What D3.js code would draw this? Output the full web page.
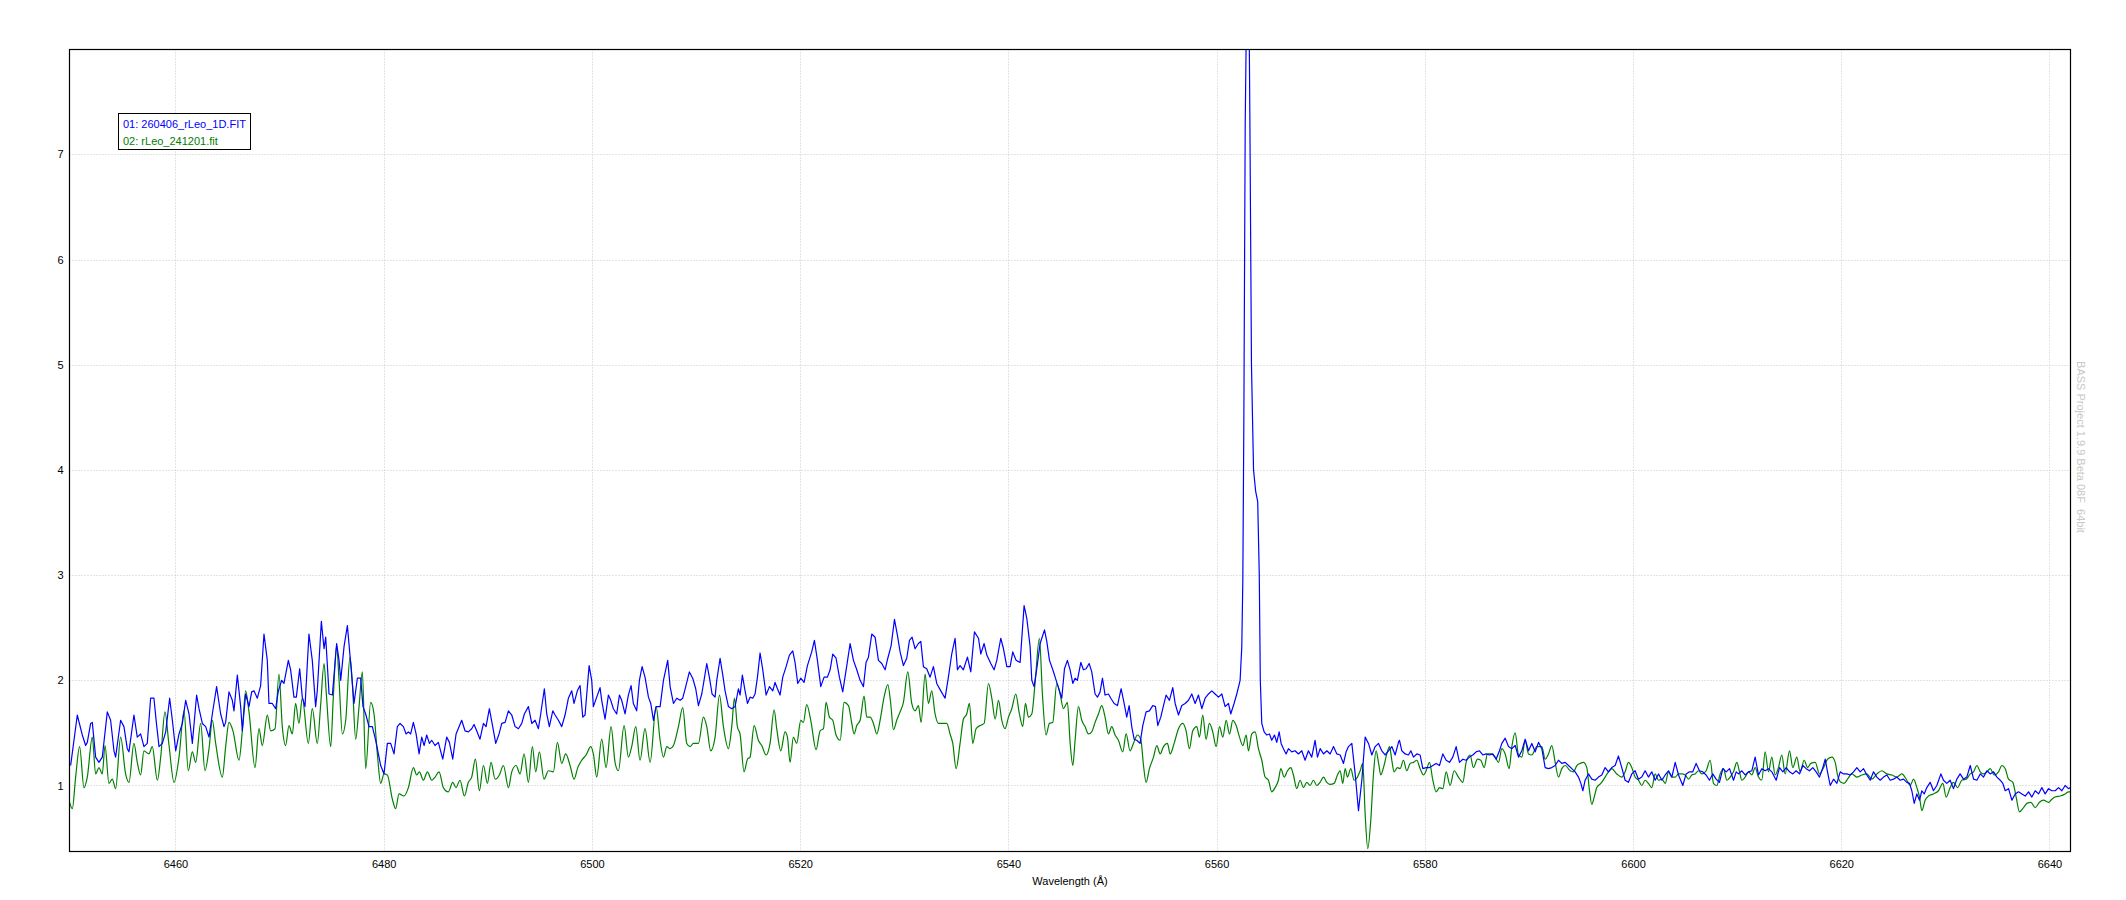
<!DOCTYPE html>
<html><head><meta charset="utf-8">
<script src="https://cdn.jsdelivr.net/npm/d3@7"></script>
<style>html,body{margin:0;padding:0;background:#fff}svg{display:block;font-family:"Liberation Sans",Arial,sans-serif}</style>
</head><body><svg id="chart" width="2126" height="900"></svg>
<script>
const xTicks=[6460,6480,6500,6520,6540,6560,6580,6600,6620,6640];
const yTicks=[1,2,3,4,5,6,7];
const seriesNames=["01: 260406_rLeo_1D.FIT","02: rLeo_241201.fit"];
const seriesColors=["#0000ff","#008000"];
const xLabel="Wavelength (Å)";
const watermark="BASS Project 1.9.9 Beta 08F  64bit";

const blueWl=[6449.93,6450.57,6451.05,6451.37,6451.53,6451.85,6452.01,6452.33,6452.65,6452.97,6453.45,6453.77,6454.09,6454.25,6454.73,6455.05,6455.37,6455.53,6456.01,6456.33,6456.65,6456.97,6457.29,6457.61,6457.93,6458.16,6458.42,6458.74,6459.06,6459.44,6459.70,6460.02,6460.34,6460.66,6460.98,6461.30,6461.62,6462.03,6462.26,6462.58,6462.90,6463.22,6463.54,6463.95,6464.34,6464.66,6464.82,6465.14,6465.46,6465.62,6465.94,6466.26,6466.42,6466.74,6467.06,6467.32,6467.54,6467.86,6468.18,6468.50,6468.82,6468.98,6469.30,6469.62,6469.88,6470.20,6470.42,6470.84,6471.06,6471.38,6471.61,6471.93,6472.18,6472.44,6472.82,6473.14,6473.46,6473.62,6474.01,6474.27,6474.43,6474.75,6475.07,6475.48,6475.71,6475.87,6476.19,6476.51,6476.83,6477.15,6477.47,6477.79,6478.01,6478.27,6478.59,6478.91,6479.23,6479.71,6480.03,6480.35,6480.67,6480.99,6481.31,
6481.57,6481.89,6482.15,6482.37,6482.59,6482.85,6483.11,6483.40,6483.65,6483.88,6484.13,6484.39,6484.61,6484.93,6485.25,6485.67,6486.05,6486.31,6486.63,6486.95,6487.49,6487.81,6488.13,6488.45,6488.68,6488.93,6489.25,6489.58,6489.83,6490.15,6490.47,6490.76,6491.08,6491.34,6491.66,6491.98,6492.30,6492.62,6492.94,6493.26,6493.51,6493.90,6494.22,6494.54,6494.86,6495.08,6495.43,6495.66,6495.91,6496.24,6496.46,6496.78,6497.10,6497.42,6497.74,6498.06,6498.28,6498.60,6498.86,6499.12,6499.34,6499.73,6499.98,6500.14,6500.46,6500.78,6500.94,6501.26,6501.58,6501.81,6502.06,6502.38,6502.64,6502.86,6503.18,6503.50,6503.76,6503.98,6504.30,6504.56,6504.82,6505.10,6505.43,6505.65,6505.91,6506.16,6506.55,6506.87,6507.28,6507.51,6507.83,6508.15,6508.47,6508.72,6509.01,6509.36,6509.68,6509.97,6510.23,6510.55,6510.77,6511.03,6511.28,6511.54,6511.83,6511.99,6512.31,6512.57,6512.79,6513.11,6513.43,6513.75,6514.07,
6514.23,6514.45,6514.71,6514.94,6515.19,6515.45,6515.67,6515.90,6516.15,6516.41,6516.73,6517.05,6517.37,6517.59,6517.82,6518.07,6518.33,6518.65,6518.97,6519.29,6519.51,6519.77,6520.06,6520.38,6520.70,6521.11,6521.37,6521.66,6521.98,6522.30,6522.62,6522.88,6523.13,6523.45,6523.77,6524.09,6524.48,6524.80,6525.12,6525.44,6525.76,6526.08,6526.33,6526.56,6526.88,6527.20,6527.52,6527.84,6528.16,6528.42,6528.74,6529.06,6529.34,6529.60,6529.92,6530.24,6530.50,6530.75,6531.04,6531.36,6531.59,6531.84,6532.16,6532.48,6532.80,6533.12,6533.51,6533.92,6534.24,6534.56,6534.88,6535.11,6535.36,6535.68,6536.07,6536.39,6536.74,6537.13,6537.35,6537.67,6537.93,6538.31,6538.63,6538.89,6539.27,6539.53,6539.85,6540.17,6540.42,6540.74,6541.13,6541.51,6541.77,6542.09,6542.25,6542.47,6542.73,6543.05,6543.47,6543.69,6543.95,6544.27,6544.59,6544.91,6545.13,6545.39,6545.67,6545.93,
6546.19,6546.41,6546.63,6546.96,6547.21,6547.47,6547.76,6548.01,6548.33,6548.56,6548.81,6549.04,6549.29,6549.61,6549.84,6550.16,6550.48,6550.83,6551.12,6551.37,6551.60,6551.85,6552.08,6552.33,6552.65,6552.91,6553.23,6553.55,6553.87,6554.13,6554.35,6554.64,6554.90,6555.15,6555.47,6555.79,6556.02,6556.34,6556.66,6556.98,6557.30,6557.62,6557.94,6558.26,6558.58,6558.90,6559.22,6559.54,6559.86,6560.18,6560.50,6560.82,6561.14,6561.36,6561.68,6561.94,6562.26,6562.42,6562.52,6562.62,6562.75,6562.90,6563.10,6563.20,6563.35,6563.55,6563.75,6563.95,6564.10,6564.20,6564.34,6564.57,6564.82,6565.08,6565.30,6565.56,6565.78,6566.01,6566.20,6566.42,6566.68,6566.90,6567.22,6567.54,6567.86,6568.18,6568.50,6568.82,6569.14,6569.46,6569.69,6569.95,6570.27,6570.59,6570.91,6571.23,6571.55,6571.87,6572.19,6572.44,6572.67,6572.99,6573.31,6573.63,6573.95,6574.27,6574.59,6574.91,6575.23,6575.55,6575.87,6576.19,6576.51,6576.83,6577.15,6577.47,
6577.57,6577.79,6578.11,6578.43,6578.66,6578.91,6579.23,6579.55,6579.81,6580.13,6580.45,6580.77,6581.09,6581.41,6581.73,6582.05,6582.37,6582.69,6583.01,6583.33,6583.65,6583.97,6584.29,6584.61,6584.93,6585.25,6585.57,6585.89,6586.21,6586.53,6586.85,6587.17,6587.40,6587.72,6588.04,6588.36,6588.68,6589.00,6589.32,6589.64,6589.96,6590.28,6590.60,6590.92,6591.24,6591.56,6591.88,6592.20,6592.52,6592.84,6593.16,6593.48,6593.80,6594.12,6594.44,6594.76,6594.99,6595.18,6595.40,6595.72,6596.04,6596.36,6596.68,6597.00,6597.32,6597.64,6597.96,6598.28,6598.60,6598.92,6599.24,6599.56,6599.88,6600.20,6600.52,6600.84,6601.16,6601.48,6601.80,6602.13,6602.45,6602.77,6603.09,6603.41,6603.73,6604.05,6604.37,6604.78,6605.10,6605.42,6605.74,6606.06,6606.38,6606.70,6607.02,6607.34,6607.66,6607.98,6608.30,6608.63,6608.95,6609.27,
6609.65,6609.91,6610.13,6610.45,6610.77,6611.09,6611.41,6611.73,6612.05,6612.37,6612.69,6613.01,6613.33,6613.75,6614.07,6614.39,6614.71,6615.03,6615.35,6615.67,6615.99,6616.31,6616.63,6616.95,6617.27,6617.59,6617.91,6618.23,6618.46,6618.68,6618.94,6619.26,6619.58,6619.90,6620.22,6620.54,6620.86,6621.18,6621.50,6621.82,6622.14,6622.46,6622.78,6623.10,6623.42,6623.74,6624.06,6624.38,6624.70,6625.02,6625.34,6625.66,6625.98,6626.30,6626.56,6626.78,6627.01,6627.26,6627.52,6627.74,6627.97,6628.22,6628.54,6628.86,6629.18,6629.57,6629.82,6630.14,6630.46,6630.78,6631.10,6631.42,6631.74,6632.06,6632.39,6632.71,6633.03,6633.35,6633.67,6633.99,6634.31,6634.63,6634.95,6635.27,6635.52,6635.75,6636.07,6636.39,6636.71,6637.03,6637.35,6637.67,6637.99,6638.31,6638.63,6638.95,6639.27,6639.59,6639.91,6640.23,6640.55,6640.87,6641.19,6641.51,6641.83,6642.00];
const blueFlux=[1.19,1.67,1.48,1.38,1.41,1.59,1.60,1.27,1.22,1.27,1.70,1.62,1.33,1.27,1.62,1.56,1.35,1.32,1.67,1.46,1.49,1.37,1.40,1.83,1.83,1.60,1.37,1.40,1.51,1.83,1.62,1.33,1.49,1.59,1.81,1.68,1.40,1.86,1.73,1.59,1.56,1.46,1.68,1.94,1.68,1.56,1.60,1.89,1.81,1.71,2.05,1.75,1.52,1.87,1.75,1.89,1.90,1.83,1.95,2.44,2.19,1.78,1.78,1.73,1.90,2.00,1.97,2.19,2.10,1.84,1.84,2.11,1.84,1.75,2.44,2.19,1.75,1.90,2.56,2.30,2.41,1.87,1.86,2.35,2.19,2.00,2.32,2.52,2.16,1.78,2.02,2.02,1.75,1.68,1.56,1.56,1.43,1.19,1.11,1.40,1.40,1.30,1.56,
1.59,1.56,1.49,1.51,1.49,1.60,1.49,1.30,1.46,1.38,1.48,1.40,1.43,1.38,1.41,1.25,1.46,1.41,1.25,1.49,1.62,1.52,1.51,1.54,1.58,1.52,1.44,1.59,1.56,1.73,1.56,1.40,1.49,1.59,1.60,1.71,1.67,1.56,1.54,1.59,1.68,1.75,1.59,1.62,1.54,1.68,1.92,1.68,1.56,1.71,1.67,1.62,1.56,1.67,1.83,1.90,1.78,1.90,1.95,1.65,1.67,2.14,2.00,1.75,1.84,1.93,1.81,1.63,1.86,1.81,1.73,1.68,1.86,1.81,1.68,1.86,1.95,1.78,1.71,2.00,2.13,2.03,1.84,1.78,1.62,1.75,1.75,2.00,2.19,1.94,1.78,1.83,1.81,1.83,1.94,2.08,2.02,1.92,1.76,1.87,2.00,2.16,2.03,1.87,1.84,2.00,2.21,2.05,1.90,1.75,1.73,1.75,1.92,
1.86,2.05,1.90,1.78,1.84,1.83,1.87,2.03,2.26,2.10,1.86,1.94,1.90,1.98,1.92,1.86,2.03,2.13,2.24,2.28,2.17,1.97,2.02,1.98,2.14,2.27,2.38,2.19,1.94,2.03,2.03,2.10,2.25,2.21,2.03,1.89,2.14,2.35,2.19,2.10,2.00,1.94,2.17,2.22,2.44,2.41,2.19,2.16,2.10,2.21,2.33,2.58,2.43,2.27,2.14,2.21,2.38,2.41,2.30,2.35,2.37,2.13,2.11,2.03,2.13,1.97,1.90,1.83,2.03,2.25,2.40,2.10,2.14,2.10,2.22,2.08,2.46,2.40,2.25,2.35,2.24,2.16,2.10,2.19,2.40,2.30,2.13,2.13,2.27,2.19,2.17,2.71,2.59,2.32,2.00,1.94,2.11,2.35,2.48,2.37,2.19,2.10,2.00,1.90,1.83,2.11,2.19,2.10,
1.97,2.02,2.00,2.17,2.10,2.11,2.16,2.08,1.87,1.84,1.89,2.02,1.86,1.87,1.83,1.78,1.76,1.92,1.78,1.65,1.76,1.56,1.44,1.43,1.40,1.57,1.70,1.71,1.76,1.75,1.57,1.65,1.76,1.86,1.81,1.93,1.78,1.67,1.76,1.78,1.81,1.87,1.78,1.86,1.73,1.83,1.87,1.90,1.87,1.84,1.87,1.75,1.78,1.68,1.78,1.87,2.00,2.32,2.95,4.50,7.30,8.60,8.60,7.30,5.00,4.00,3.80,3.70,3.00,2.00,1.59,1.51,1.48,1.49,1.43,1.48,1.41,1.51,1.40,1.35,1.30,1.35,1.32,1.33,1.30,1.33,1.24,1.33,1.27,1.43,1.27,1.35,1.30,1.33,1.30,1.37,1.30,1.29,1.21,1.32,1.37,1.40,1.11,0.76,1.05,1.46,1.40,1.29,1.37,1.40,1.33,1.29,1.33,1.37,1.29,1.41,
1.43,1.33,1.30,1.29,1.33,1.27,1.30,1.29,1.16,1.17,1.17,1.19,1.21,1.19,1.30,1.24,1.22,1.27,1.37,1.22,1.25,1.24,1.27,1.29,1.32,1.33,1.29,1.30,1.29,1.30,1.25,1.33,1.40,1.45,1.37,1.35,1.38,1.27,1.33,1.44,1.33,1.40,1.32,1.41,1.35,1.17,1.16,1.17,1.19,1.24,1.21,1.22,1.19,1.16,1.13,1.08,1.02,0.95,1.05,1.11,1.06,1.05,1.08,1.10,1.17,1.13,1.17,1.19,1.28,1.17,1.05,1.03,1.11,1.14,1.06,1.08,1.14,1.08,1.13,1.05,1.11,1.05,1.10,1.14,1.08,1.22,1.10,1.00,1.11,1.13,1.13,1.21,1.14,1.13,1.10,1.05,1.11,1.06,1.03,1.16,1.13,1.16,
1.05,1.13,1.11,1.14,1.10,1.13,1.14,1.27,1.10,1.16,1.14,1.16,1.13,1.05,1.17,1.13,1.17,1.13,1.11,1.14,1.11,1.19,1.16,1.14,1.17,1.13,1.08,1.17,1.25,1.13,1.00,1.06,1.02,1.13,1.11,1.11,1.10,1.13,1.17,1.13,1.16,1.10,1.05,1.13,1.08,1.05,1.08,1.10,1.05,1.06,1.08,1.05,1.06,1.03,1.02,0.95,0.83,0.92,0.86,0.95,0.92,0.98,1.03,0.95,1.00,1.11,1.05,1.02,1.05,0.97,1.06,1.11,1.06,1.08,1.19,1.06,1.05,1.11,1.08,1.14,1.11,1.13,1.08,1.05,1.02,0.95,0.97,0.86,0.92,0.94,0.92,0.90,0.94,0.89,0.95,0.92,0.98,0.92,0.97,0.95,0.95,0.98,0.95,1.00,0.97,0.98];

const greenWl=[6449.77,6450.09,6450.41,6450.79,6451.21,6451.53,6452.01,6452.33,6452.65,6452.97,6453.23,6453.61,6453.93,6454.25,6454.73,6455.21,6455.53,6456.01,6456.33,6456.65,6456.97,6457.45,6457.77,6458.26,6458.58,6458.99,6459.38,6459.86,6460.34,6460.82,6461.23,6461.62,6461.94,6462.42,6462.83,6463.22,6463.54,6463.86,6464.50,6464.82,6465.14,6465.52,6466.10,6466.42,6466.74,6467.06,6467.64,6468.02,6468.34,6468.82,6469.14,6469.56,6469.94,6470.26,6470.58,6470.90,6471.22,6471.54,6471.86,6472.18,6472.76,6473.14,6473.62,6473.94,6474.27,6474.49,6474.91,6475.16,6475.48,6475.71,6476.03,6476.35,6476.76,6476.99,6477.31,6477.63,6477.95,6478.27,6478.75,6479.07,6479.39,6479.71,6480.03,6480.35,6480.83,6481.15,6481.47,
6481.95,6482.37,6482.85,6483.17,6483.43,6483.81,6484.20,6484.61,6484.93,6485.32,6485.73,6486.21,6486.63,6486.95,6487.33,6487.75,6488.13,6488.45,6488.81,6489.19,6489.58,6489.96,6490.31,6490.70,6491.11,6491.50,6491.98,6492.30,6492.71,6493.10,6493.48,6493.90,6494.28,6494.60,6494.95,6495.40,6495.82,6496.30,6496.68,6497.10,6497.48,6497.90,6498.28,6498.64,6499.02,6499.44,6499.89,6500.14,6500.46,6500.94,6501.36,6501.84,6502.22,6502.54,6503.09,6503.50,6503.82,6504.21,6504.62,6505.10,6505.59,6506.16,6506.55,6506.87,6507.19,6507.51,6507.83,6508.31,6508.72,6509.11,6509.43,6509.75,6510.23,6510.71,6511.03,6511.41,6511.83,6512.25,6512.63,6513.11,6513.43,6513.69,6513.97,6514.23,
6514.61,6514.94,6515.19,6515.58,6515.99,6516.31,6516.73,6517.11,6517.50,6517.75,6518.14,6518.55,6518.78,6519.03,6519.35,6519.67,6520.06,6520.31,6520.63,6521.02,6521.53,6521.92,6522.24,6522.49,6522.81,6523.13,6523.45,6523.84,6524.22,6524.64,6524.96,6525.18,6525.44,6525.76,6526.14,6526.40,6526.72,6527.04,6527.36,6527.68,6528.06,6528.42,6528.70,6528.96,6529.28,6529.60,6529.92,6530.34,6530.72,6531.04,6531.36,6531.62,6532.00,6532.32,6532.64,6532.96,6533.28,6533.76,6534.08,6534.40,6534.66,6534.98,6535.36,6535.68,6536.00,6536.26,6536.58,6536.90,6537.29,6537.67,6538.09,6538.41,6538.73,6539.05,6539.37,6539.69,6540.01,6540.33,6540.71,6541.06,6541.38,6541.64,6541.93,6542.25,6542.57,6542.98,6543.27,6543.62,6543.94,6544.26,6544.65,6544.97,6545.29,6545.67,6545.93,
6546.19,6546.41,6546.73,6547.05,6547.37,6547.69,6548.01,6548.33,6548.65,6548.97,6549.29,6549.61,6549.93,6550.25,6550.57,6550.99,6551.31,6551.69,6552.01,6552.40,6552.72,6552.98,6553.23,6553.55,6553.94,6554.26,6554.58,6554.90,6555.28,6555.54,6555.92,6556.34,6556.75,6557.07,6557.39,6557.71,6558.10,6558.35,6558.67,6558.99,6559.31,6559.63,6559.96,6560.28,6560.60,6560.92,6561.24,6561.56,6561.88,6562.20,6562.52,6562.84,6563.06,6563.38,6563.70,6564.02,6564.34,6564.66,6564.98,6565.30,6565.62,6565.94,6566.17,6566.49,6566.81,6567.13,6567.38,6567.70,6568.02,6568.34,6568.66,6568.98,6569.30,6569.62,6569.94,6570.27,6570.59,6570.91,6571.29,6571.61,6571.87,6572.12,6572.35,6572.57,6572.89,6573.21,6573.53,6573.79,6574.04,6574.27,6574.52,6574.81,6575.07,6575.32,6575.55,6575.77,6576.03,6576.35,6576.61,6576.83,6577.05,6577.37,6577.63,
6577.95,6578.27,6578.59,6578.91,6579.23,6579.55,6579.87,6580.13,6580.45,6580.77,6581.09,6581.41,6581.73,6582.05,6582.43,6582.82,6583.23,6583.65,6583.97,6584.35,6584.67,6585.06,6585.38,6585.70,6586.02,6586.34,6586.76,6587.08,6587.40,6587.72,6588.10,6588.36,6588.68,6589.00,6589.32,6589.64,6589.96,6590.28,6590.76,6591.24,6591.56,6591.88,6592.20,6592.52,6592.84,6593.16,6593.48,6593.96,6594.28,6594.60,6594.92,6595.24,6595.56,6595.82,6596.04,6596.27,6596.52,6596.91,6597.32,6597.64,6597.96,6598.44,6598.92,6599.24,6599.56,6599.88,6600.20,6600.52,6600.84,6601.16,6601.48,6601.80,6602.13,6602.45,6602.77,6603.09,6603.41,6603.73,6604.05,6604.37,6604.69,6605.01,6605.33,6605.65,6605.97,6606.29,6606.61,6607.02,6607.41,6607.73,6608.05,6608.37,6608.69,6609.01,6609.33,
6609.65,6609.97,6610.23,6610.45,6610.77,6611.09,6611.41,6611.73,6612.05,6612.37,6612.69,6613.01,6613.33,6613.65,6613.97,6614.29,6614.61,6615.03,6615.35,6615.73,6616.05,6616.44,6616.76,6617.08,6617.50,6617.91,6618.30,6618.68,6619.10,6619.42,6619.64,6619.96,6620.28,6620.60,6621.02,6621.50,6621.98,6622.46,6622.94,6623.42,6623.90,6624.38,6624.86,6625.34,6625.82,6626.30,6626.62,6626.94,6627.26,6627.52,6627.74,6628.06,6628.38,6628.86,6629.34,6629.76,6630.08,6630.46,6630.78,6631.17,6631.58,6632.00,6632.39,6632.71,6633.03,6633.35,6633.67,6633.99,6634.31,6634.69,6635.11,6635.43,6635.75,6636.07,6636.48,6636.80,6637.12,6637.51,6637.83,6638.21,6638.63,6639.04,6639.43,6639.91,6640.23,6640.55,6641.03,6641.51,6641.83,6642.00];
const greenFlux=[0.86,0.78,1.08,1.37,0.98,1.08,1.46,1.11,1.17,1.11,1.38,1.02,1.06,0.97,1.46,1.11,1.03,1.40,1.22,1.10,1.33,1.30,1.37,1.05,1.27,1.70,1.38,1.03,1.27,1.71,1.14,1.32,1.22,1.59,1.14,1.35,1.62,1.40,1.08,1.37,1.60,1.52,1.24,1.52,1.90,1.70,1.17,1.54,1.38,1.67,1.52,1.54,2.06,1.56,1.38,1.57,1.49,1.78,1.59,1.83,1.40,1.73,1.40,1.76,2.16,1.87,1.37,1.84,2.33,2.00,1.49,1.62,2.22,1.97,1.44,1.75,2.08,1.16,1.79,1.68,1.30,1.02,1.11,1.10,0.87,0.78,0.92,
0.90,0.98,1.17,1.10,1.13,1.05,1.13,1.05,1.08,1.13,0.98,0.94,1.03,0.98,1.05,0.90,1.03,1.08,1.25,0.95,1.19,1.02,1.22,1.06,1.10,1.19,0.98,1.13,1.19,1.11,1.30,1.03,1.37,1.13,1.32,1.06,1.14,1.13,1.41,1.21,1.30,1.19,1.06,1.17,1.24,1.29,1.37,1.30,1.08,1.44,1.17,1.56,1.22,1.14,1.57,1.27,1.37,1.56,1.24,1.54,1.22,1.75,1.43,1.27,1.37,1.35,1.38,1.56,1.74,1.40,1.37,1.40,1.40,1.65,1.56,1.33,1.46,1.86,1.56,1.35,1.56,1.83,1.56,1.49,
1.13,1.25,1.27,1.57,1.43,1.38,1.29,1.40,1.72,1.54,1.33,1.51,1.46,1.22,1.46,1.40,1.62,1.60,1.77,1.62,1.34,1.52,1.54,1.79,1.65,1.62,1.48,1.43,1.79,1.76,1.59,1.49,1.57,1.62,1.85,1.65,1.65,1.59,1.49,1.62,1.84,1.96,1.78,1.53,1.62,1.70,1.79,2.08,1.78,1.71,1.76,1.60,2.06,1.78,1.90,1.68,1.59,1.59,1.59,1.49,1.40,1.16,1.40,1.63,1.68,1.78,1.40,1.54,1.57,1.59,1.97,1.83,1.63,1.81,1.62,1.54,1.65,1.73,1.87,1.68,1.56,1.78,1.65,1.68,1.98,2.40,1.87,1.48,1.59,1.60,1.97,1.87,1.73,1.79,1.41,
1.19,1.43,1.75,1.62,1.56,1.49,1.51,1.60,1.68,1.76,1.65,1.49,1.56,1.48,1.43,1.32,1.49,1.33,1.40,1.48,1.44,1.19,1.03,1.16,1.27,1.38,1.30,1.37,1.40,1.30,1.40,1.54,1.59,1.52,1.35,1.52,1.56,1.46,1.67,1.44,1.59,1.51,1.37,1.56,1.46,1.62,1.49,1.62,1.57,1.46,1.38,1.48,1.33,1.49,1.51,1.35,1.24,1.08,1.05,0.94,0.98,1.05,1.16,1.08,1.14,1.17,1.10,0.97,1.05,0.98,1.03,1.00,1.05,1.00,1.03,1.08,1.03,1.01,1.02,1.10,1.14,1.02,1.16,1.08,1.16,1.05,1.08,1.14,1.21,0.73,0.40,0.67,1.11,1.33,1.22,1.10,1.17,1.30,1.37,1.24,1.13,1.17,1.16,
1.24,1.14,1.21,1.22,1.24,1.16,1.10,1.14,1.22,1.05,0.94,0.98,0.97,1.13,1.00,1.14,1.08,1.03,1.22,1.29,1.17,1.25,1.24,1.17,1.30,1.30,1.27,1.22,1.35,1.30,1.16,1.37,1.50,1.29,1.27,1.43,1.30,1.29,1.37,1.37,1.25,1.30,1.38,1.22,1.08,1.16,1.19,1.14,1.13,1.19,1.21,1.22,1.17,0.95,0.82,0.89,0.98,1.02,1.08,1.13,1.16,1.11,1.08,1.13,1.22,1.17,1.08,1.05,1.00,1.05,1.02,0.98,1.11,1.05,1.06,1.02,1.13,1.08,1.08,1.11,1.11,1.10,1.06,1.10,1.11,1.14,1.11,1.14,1.24,1.02,1.00,1.11,1.16,1.05,1.08,
1.13,1.22,1.13,1.05,1.08,1.13,1.10,1.17,1.08,1.05,1.32,1.13,1.27,1.10,1.17,1.29,1.11,1.33,1.17,1.27,1.13,1.24,1.17,1.21,1.22,1.11,1.17,1.25,1.27,1.22,1.10,1.03,1.02,1.06,1.11,1.08,1.10,1.11,1.06,1.11,1.14,1.11,1.10,1.08,1.11,1.05,1.00,1.06,0.98,0.89,0.76,0.86,0.90,0.92,0.95,1.02,0.89,0.98,1.03,0.98,1.05,1.06,1.11,1.13,1.19,1.13,1.11,1.13,1.16,1.10,1.13,1.19,1.16,1.06,1.03,0.89,0.75,0.79,0.83,0.84,0.79,0.84,0.86,0.84,0.87,0.89,0.90,0.92,0.94,0.94];

const W=2126,H=900;
const plot={left:69.5,right:2070.5,top:49.5,bottom:851.5};
const xScale=d3.scaleLinear().domain([6449.82,6642.02]).range([plot.left,plot.right]);
const yScale=d3.scaleLinear().domain([0.3724,7.998]).range([plot.bottom,plot.top]);

const svg=d3.select("#chart");
svg.append("rect").attr("width",W).attr("height",H).attr("fill","#fff");

svg.append("defs").append("clipPath").attr("id","clip")
  .append("rect").attr("x",plot.left).attr("y",plot.top)
  .attr("width",plot.right-plot.left).attr("height",plot.bottom-plot.top);

// grid
const grid=svg.append("g");
grid.selectAll("line.vx").data(xTicks).join("line")
  .attr("x1",d=>Math.round(xScale(d))+0.5).attr("x2",d=>Math.round(xScale(d))+0.5)
  .attr("y1",plot.top).attr("y2",plot.bottom)
  .attr("stroke","#c8c8c8").attr("stroke-width",1).attr("stroke-dasharray","1,2");
grid.selectAll("line.hy").data(yTicks).join("line")
  .attr("y1",d=>Math.round(yScale(d))+0.5).attr("y2",d=>Math.round(yScale(d))+0.5)
  .attr("x1",plot.left).attr("x2",plot.right)
  .attr("stroke","#c8c8c8").attr("stroke-width",1).attr("stroke-dasharray","1,2");

// axes via d3 axis generators (labels only)
const xAxis=d3.axisBottom(xScale).tickValues(xTicks).tickSize(0).tickPadding(9).tickFormat(d3.format("d"));
const gx=svg.append("g").attr("transform",`translate(0,${plot.bottom})`).call(xAxis);
gx.select(".domain").remove();
gx.selectAll("text").attr("font-size",11).attr("fill","#000").attr("font-family","Liberation Sans, Arial, sans-serif");

const yAxis=d3.axisLeft(yScale).tickValues(yTicks).tickSize(0).tickPadding(6).tickFormat(d3.format("d"));
const gy=svg.append("g").attr("transform",`translate(${plot.left},0)`).call(yAxis);
gy.select(".domain").remove();
gy.selectAll("text").attr("font-size",11).attr("fill","#000").attr("font-family","Liberation Sans, Arial, sans-serif");

// lines
const lineLin=d3.line().x(d=>xScale(d[0])).y(d=>yScale(d[1]));
const lineSmooth=d3.line().x(d=>xScale(d[0])).y(d=>yScale(d[1])).curve(d3.curveMonotoneX);
const greenData=greenWl.map((w,i)=>[w,greenFlux[i]]);
const blueData=blueWl.map((w,i)=>[w,blueFlux[i]]);
const lines=svg.append("g").attr("clip-path","url(#clip)");
lines.append("path").datum(greenData).attr("d",lineSmooth).attr("fill","none")
  .attr("stroke",seriesColors[1]).attr("stroke-width",1.2).attr("stroke-linejoin","round");
lines.append("path").datum(blueData).attr("d",lineLin).attr("fill","none")
  .attr("stroke",seriesColors[0]).attr("stroke-width",1.2).attr("stroke-linejoin","round");

// frame
svg.append("rect").attr("x",plot.left).attr("y",plot.top)
  .attr("width",plot.right-plot.left).attr("height",plot.bottom-plot.top)
  .attr("fill","none").attr("stroke","#000").attr("stroke-width",1.2);

// legend
const lg=svg.append("g");
lg.append("rect").attr("x",118.5).attr("y",113.5).attr("width",132).attr("height",36)
  .attr("fill","#fff").attr("stroke","#000").attr("stroke-width",1);
lg.selectAll("text").data(seriesNames).join("text")
  .attr("x",123).attr("y",(d,i)=>128+i*17)
  .attr("font-size",11).attr("fill",(d,i)=>seriesColors[i]).text(d=>d);

// x label
svg.append("text").attr("x",(plot.left+plot.right)/2).attr("y",885)
  .attr("text-anchor","middle").attr("font-size",11).attr("fill","#000").text(xLabel);

// watermark
svg.append("text").attr("transform","translate(2077,447) rotate(90)")
  .attr("text-anchor","middle").attr("font-size",11).attr("fill","#c8c8c8")
  .style("white-space","pre").text(watermark);
</script></body></html>
